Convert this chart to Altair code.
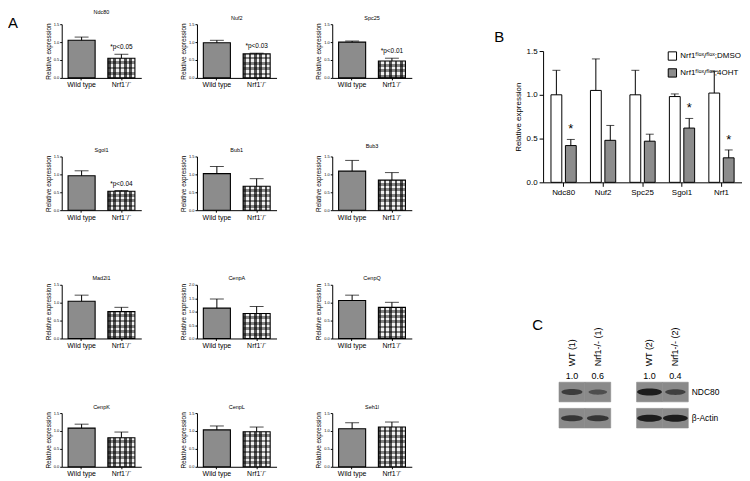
import altair as alt
import pandas as pd

FONT = "Liberation Sans"

# ---------------- Panel A data ----------------
genes_a = ["Ndc80", "Nuf2", "Spc25", "Sgol1", "Bub1", "Bub3",
           "Mad2l1", "CenpA", "CenpQ", "CenpK", "CenpL", "Seh1l"]
groups_a = ["Wild type", "Nrf1⁻/⁻"]
wt_mean = [1.05, 0.98, 1.00, 0.96, 1.02, 1.09, 1.04, 1.13, 1.06, 1.08, 1.03, 1.06]
wt_top = [1.14, 1.05, 1.03, 1.10, 1.22, 1.39, 1.21, 1.47, 1.21, 1.19, 1.14, 1.23]
ko_mean = [0.55, 0.67, 0.47, 0.53, 0.67, 0.84, 0.75, 0.93, 0.87, 0.81, 0.98, 1.11]
ko_top = [0.66, 0.69, 0.55, 0.55, 0.88, 1.05, 0.87, 1.19, 1.01, 0.97, 1.11, 1.25]
p_notes = ["*p<0.05", "*p<0.03", "*p<0.01", "*p<0.04", "", "", "", "", "", "", "", ""]
y_max = [1.5, 1.5, 1.5, 1.5, 1.5, 1.5, 1.5, 2.0, 1.5, 1.5, 1.5, 1.5]

# ---------------- Panel B data ----------------
genes_b = ["Ndc80", "Nuf2", "Spc25", "Sgol1", "Nrf1"]
conds_b = ["Nrf1ᶠˡᵒˣ/ᶠˡᵒˣ;DMSO", "Nrf1ᶠˡᵒˣ/ᶠˡᵒˣ;4OHT"]
dmso_mean = [1.00, 1.05, 1.00, 0.98, 1.02]
dmso_top = [1.28, 1.41, 1.28, 1.01, 1.27]
oht_mean = [0.42, 0.48, 0.47, 0.62, 0.28]
oht_top = [0.49, 0.65, 0.55, 0.73, 0.37]
oht_star = ["*", "", "", "*", "*"]

# ---------------- Panel C data ----------------
proteins = ["NDC80", "β-Actin"]
lanes = ["WT (1)", "Nrf1-/- (1)", "WT (2)", "Nrf1-/- (2)"]
lane_order = ["WT (1)", "Nrf1-/- (1)", "·", "WT (2)", "Nrf1-/- (2)"]  # "·" = gap between the two blots
ratios = ["1.0", "0.6", "1.0", "0.4"]
ndc80_signal = [0.55, 0.3, 1.0, 0.5]
actin_signal = [0.65, 0.65, 1.0, 1.0]

INDEP = dict(color="independent", xOffset="independent", size="independent",
             opacity="independent", x="independent", y="independent")


def stripes(n, c1, c2, along_x):
    stops = []
    for k in range(n):
        col = c1 if k % 2 == 0 else c2
        stops.append(alt.GradientStop(offset=k / n, color=col))
        stops.append(alt.GradientStop(offset=(k + 1) / n, color=col))
    if along_x:
        return alt.LinearGradient(gradient="linear", stops=stops, x1=0, x2=1, y1=0, y2=0)
    return alt.LinearGradient(gradient="linear", stops=stops, x1=0, x2=0, y1=0, y2=1)


SW, SH = 80, 54


def small_chart(i):
    df = pd.DataFrame({
        "group": groups_a,
        "mean": [wt_mean[i], ko_mean[i]],
        "top": [wt_top[i], ko_top[i]],
        "note": ["", p_notes[i]],
    })
    ymax = y_max[i]
    ticks = [k * 0.5 for k in range(int(round(ymax / 0.5)) + 1)]
    x = alt.X("group:N", sort=groups_a, title=None,
              scale=alt.Scale(paddingInner=0.32, paddingOuter=0.16),
              axis=alt.Axis(labelAngle=0, labelFontSize=7, tickSize=2, labelPadding=1))

    def ych(field):
        return alt.Y(field, title="Relative expression",
                     scale=alt.Scale(domain=[0, ymax], nice=False),
                     axis=alt.Axis(values=ticks, format=".1f", labelFontSize=4, tickSize=2,
                                   labelPadding=1, titleFontSize=6.5, titlePadding=2, grid=False))

    base = alt.Chart(df)
    wt = base.transform_filter(alt.datum.group == groups_a[0]).mark_bar(
        fill="#8c8c8c", stroke="black", strokeWidth=1.1).encode(x=x, y=ych("mean:Q"))
    ko_px = ko_mean[i] / ymax * SH
    nrows = max(2, int(round(ko_px / 2.7)))
    ko1 = base.transform_filter(alt.datum.group == groups_a[1]).mark_bar(
        fill=stripes(10, "#505050", "#f0f0f0", True)).encode(x=x, y=ych("mean:Q"))
    ko2 = base.transform_filter(alt.datum.group == groups_a[1]).mark_bar(
        fill=stripes(nrows, "rgba(0,0,0,0)", "rgba(0,0,0,0.45)", False),
        stroke="black", strokeWidth=1.1).encode(x=x, y=ych("mean:Q"))
    rule = base.mark_rule(color="black", strokeWidth=1).encode(x=x, y=ych("mean:Q"), y2="top:Q")
    cap = base.mark_tick(color="black", size=14, thickness=1).encode(x=x, y=ych("top:Q"))
    note = base.mark_text(fontSize=6.5, font=FONT, dy=-7, color="black").encode(
        x=x, y=ych("top:Q"), text="note:N")
    layers = [wt, ko1, ko2, rule, cap, note]
    if i == 0:
        layers.append(alt.Chart(pd.DataFrame({"t": ["A"]})).mark_text(
            fontSize=15, font=FONT, align="left", baseline="top", color="black").encode(
            text="t:N", x=alt.value(-54), y=alt.value(-8)))
    return alt.layer(*layers).properties(
        width=SW, height=SH,
        title=alt.TitleParams(genes_a[i], fontSize=5.5, fontWeight="normal", font=FONT, offset=1))


rows = [alt.hconcat(*[small_chart(r * 3 + c) for c in range(3)], spacing=39).resolve_scale(**INDEP)
        for r in range(4)]
left = alt.vconcat(*rows, spacing=56).resolve_scale(**INDEP)

# ---------------- Panel B ----------------
dfB = pd.DataFrame({
    "gene": genes_b * 2,
    "cond": [conds_b[0]] * 5 + [conds_b[1]] * 5,
    "mean": dmso_mean + oht_mean,
    "top": dmso_top + oht_top,
    "star": [""] * 5 + oht_star,
})
xB = alt.X("gene:N", sort=genes_b, title=None,
           scale=alt.Scale(paddingInner=0.36, paddingOuter=0.2),
           axis=alt.Axis(labelAngle=0, labelFontSize=8, tickSize=4, labelPadding=2))
xoB = alt.XOffset("cond:N", sort=conds_b, scale=alt.Scale(domain=conds_b, paddingInner=0.25))


def yB(field):
    return alt.Y(field, title="Relative expression",
                 scale=alt.Scale(domain=[0, 1.5], nice=False),
                 axis=alt.Axis(values=[0, 0.5, 1.0, 1.5], format=".1f", labelFontSize=8, tickSize=4,
                               labelPadding=2, titleFontSize=8, titlePadding=4, grid=False))


baseB = alt.Chart(dfB)
barsB = baseB.mark_bar(stroke="black", strokeWidth=1).encode(
    x=xB, xOffset=xoB, y=yB("mean:Q").stack(None),
    color=alt.Color("cond:N", sort=conds_b,
                    scale=alt.Scale(domain=conds_b, range=["white", "#8c8c8c"]),
                    legend=alt.Legend(title=None, orient="top-right", offset=0, symbolType="square",
                                      symbolSize=70, symbolStrokeColor="black", symbolStrokeWidth=1,
                                      labelFontSize=8, labelFont=FONT, rowPadding=3, labelOffset=3)))
ruleB = baseB.mark_rule(color="black", strokeWidth=1).encode(
    x=xB, xOffset=xoB, y=yB("mean:Q"), y2="top:Q")
capB = baseB.mark_tick(color="black", size=8, thickness=1).encode(x=xB, xOffset=xoB, y=yB("top:Q"))
starB = baseB.mark_text(fontSize=13, font=FONT, dy=-10, color="black").encode(
    x=xB, xOffset=xoB, y=yB("top:Q"), text="star:N")
b_letter = alt.Chart(pd.DataFrame({"t": ["B"]})).mark_text(
    fontSize=15, font=FONT, align="left", baseline="top", color="black").encode(
    text="t:N", x=alt.value(-49), y=alt.value(-21))
chartB = alt.layer(barsB, ruleB, capB, starB, b_letter).properties(width=200, height=132)

# ---------------- Panel C ----------------
df_box = pd.DataFrame({"lane": [l for l in lanes for _ in proteins],
                       "protein": proteins * len(lanes)})
df_band = pd.DataFrame({
    "lane": lanes * 2,
    "protein": [proteins[0]] * 4 + [proteins[1]] * 4,
    "signal": ndc80_signal + actin_signal,
})
df_lane = pd.DataFrame({"lane": lanes, "ratio": ratios})

xC = alt.X("lane:N", sort=lane_order, title=None,
           scale=alt.Scale(domain=lane_order, paddingInner=0, paddingOuter=0.308, align=1), axis=None)
yC = alt.Y("protein:N", sort=proteins, title=None,
           scale=alt.Scale(domain=proteins, paddingInner=0.25, paddingOuter=0),
           axis=alt.Axis(orient="right", domain=False, ticks=False, labelFontSize=8.5,
                         labelPadding=3, labelFont=FONT))

ellipse = "M -1 0 A 1 0.28 0 1 1 1 0 A 1 0.28 0 1 1 -1 0 Z"
boxes = alt.Chart(df_box).mark_rect(color="#8a8a8a", stroke="#8a8a8a", strokeWidth=0.6).encode(
    x=xC, y=yC)
bands = alt.Chart(df_band).mark_point(shape=ellipse, filled=True, color="#1c1c1c").encode(
    x=xC, y=yC,
    size=alt.Size("signal:Q", scale=alt.Scale(domain=[0, 1], range=[230, 620]), legend=None),
    opacity=alt.Opacity("signal:Q", scale=alt.Scale(domain=[0, 1], range=[0.35, 1]), legend=None))
ratio_txt = alt.Chart(df_lane).mark_text(fontSize=9, font=FONT, baseline="bottom", dy=-1,
                                         color="black").encode(
    x=xC, y=alt.value(0), text="ratio:N")
lane_txt = alt.Chart(df_lane).mark_text(fontSize=9, font=FONT, angle=270, align="left",
                                        baseline="middle", color="black").encode(
    x=xC, y=alt.value(-16), text="lane:N")
c_letter = alt.Chart(pd.DataFrame({"t": ["C"]})).mark_text(
    fontSize=15, font=FONT, align="left", baseline="top", color="black").encode(
    text="t:N", x=alt.value(-11), y=alt.value(-65))
chartC = alt.layer(boxes, bands, ratio_txt, lane_txt, c_letter).properties(width=146, height=46)

spacer = alt.Chart(pd.DataFrame({"v": [0]})).mark_point(size=0, opacity=0).encode(
    x=alt.value(0), y=alt.value(0)).properties(width=1, height=6)

right = alt.vconcat(
    spacer,
    alt.vconcat(chartB, chartC, spacing=122).resolve_scale(**INDEP).resolve_legend(color="independent"),
    spacing=0).resolve_scale(**INDEP).resolve_legend(color="independent")

chart = alt.hconcat(left, right, spacing=83).resolve_scale(**INDEP).resolve_legend(
    color="independent").properties(
    padding=0
).configure_view(stroke=None).configure_axis(
    domainColor="black", tickColor="black", labelColor="black", titleColor="black",
    labelFont=FONT, titleFont=FONT, titleFontWeight="normal"
).configure_legend(labelFont=FONT).configure_title(color="black")

chart.save("out.html", embed_options={"renderer": "svg", "actions": False})
